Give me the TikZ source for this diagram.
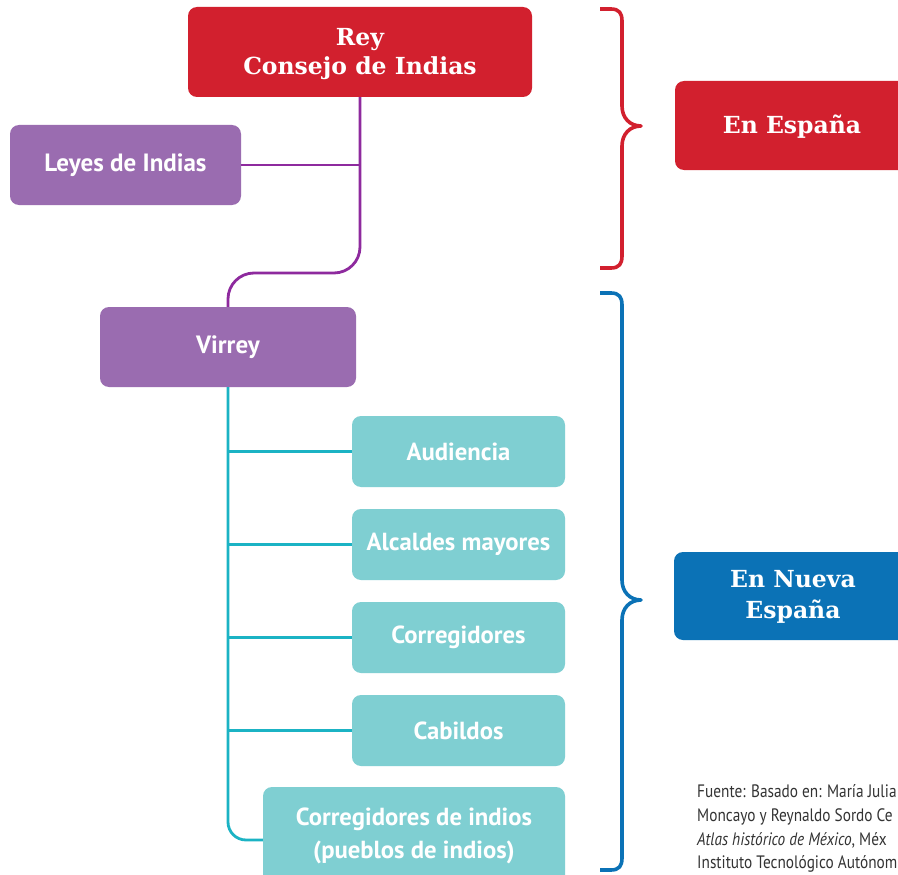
\documentclass[tikz,border=0pt]{standalone}
\usepackage{fontspec}
\setmainfont{PT Sans}
\newfontfamily\slab{DejaVu Serif}
\newfontfamily\fnfont[FakeStretch=0.85]{PT Sans}
\definecolor{rred}{HTML}{D2202E}
\definecolor{pbox}{HTML}{9A6CB0}
\definecolor{pline}{HTML}{8E2A9E}
\definecolor{tbox}{HTML}{7FCFD2}
\definecolor{tline}{HTML}{1BB3C4}
\definecolor{bblue}{HTML}{0B72B6}
\definecolor{fntext}{HTML}{333333}
\tikzset{
  boxbase/.style={rounded corners=9pt, inner sep=0pt, align=center, text=white},
  redbox/.style={boxbase, fill=rred, font=\slab\bfseries\fontsize{23.5}{29}\selectfont},
  bluebox/.style={boxbase, fill=bblue, font=\slab\bfseries\fontsize{23.5}{31}\selectfont},
  purplebox/.style={boxbase, fill=pbox, font=\bfseries\fontsize{25}{30}\selectfont},
  tealbox/.style={boxbase, fill=tbox, font=\bfseries\fontsize{24.7}{33}\selectfont},
  pconn/.style={draw=pline, line width=2.8pt},
  tconn/.style={draw=tline, line width=2.8pt},
  brace/.style={line width=3.6pt, line join=round},
  fnline/.style={anchor=base west, inner sep=0pt, text=fntext, font=\fnfont\fontsize{18}{24}\selectfont}
}
\begin{document}
\begin{tikzpicture}[x=1pt,y=-1pt]
\useasboundingbox (0,0) rectangle (898,875);
\clip (0,0) rectangle (898,875);
\fill[white] (0,0) rectangle (898,875);

% nodes
\node[redbox, minimum width=344pt, minimum height=90pt] (rey) at (360,52) {};
\node[redbox] (reytext) at (360,54) {Rey\\Consejo de Indias};
\node[purplebox, minimum width=231pt, minimum height=80pt] (leyes) at (125.5,165) {Leyes de Indias};
\node[purplebox, minimum width=256pt, minimum height=80pt] (virrey) at (228,347) {Virrey};
\node[tealbox, minimum width=213pt, minimum height=71pt] (aud) at (458.5,451.5) {Audiencia};
\node[tealbox, minimum width=213pt, minimum height=71pt] (alc) at (458.5,544.5) {Alcaldes mayores};
\node[tealbox, minimum width=213pt, minimum height=71pt] (corr) at (458.5,637.5) {Corregidores};
\node[tealbox, minimum width=213pt, minimum height=71pt] (cab) at (458.5,730.5) {Cabildos};
\node[tealbox, minimum width=302pt, minimum height=106pt] (cind) at (414,840) {};
\node[tealbox] (cindtext) at (414,836) {Corregidores de indios\\(pueblos de indios)};
\node[redbox, minimum width=240pt, minimum height=89pt] (esp) at (795,125.5) {};
\node[redbox] (esptext) at (792,127) {En España};
\node[bluebox, minimum width=241pt, minimum height=88pt] (nesp) at (794.5,596) {};
\node[bluebox] (nesptext) at (793,597) {En Nueva\\España};

% connectors
\draw[pconn, rounded corners=26pt] (rey.south) -- (rey.south |- 0,273) -- (virrey.north |- 0,273) -- (virrey.north);
\draw[pconn] (leyes.east) -- (leyes.east -| rey.south);
\draw[tconn, rounded corners=18pt] (virrey.south) -- (virrey.south |- cind.west) -- (cind.west);
\draw[tconn] (virrey.south |- aud.west) -- (aud.west);
\draw[tconn] (virrey.south |- alc.west) -- (alc.west);
\draw[tconn] (virrey.south |- corr.west) -- (corr.west);
\draw[tconn] (virrey.south |- cab.west) -- (cab.west);

% braces
\coordinate (rtip) at (641,126);
\draw[brace, draw=rred] (600,9) -- (611,9) .. controls (619,9) and (622,13) .. (622,21) -- (622,106)
  .. controls (622,118) and (630,126) .. (rtip)
  .. controls (630,126) and (622,134) .. (622,146) -- (622,256)
  .. controls (622,264) and (619,268) .. (611,268) -- (600,268);
\coordinate (btip) at (641,600);
\draw[brace, draw=bblue] (600,293) -- (611,293) .. controls (619,293) and (622,297) .. (622,305) -- (622,580)
  .. controls (622,592) and (630,600) .. (btip)
  .. controls (630,600) and (622,608) .. (622,620) -- (622,858)
  .. controls (622,866) and (619,870) .. (611,870) -- (600,870);

% source note
\node[fnline] (f1) at (697,797) {Fuente: Basado en: María Julia};
\node[fnline] (f2) at (697,821) {Moncayo y Reynaldo Sordo Ce};
\node[fnline] (f3) at (697,845) {\itshape Atlas histórico de México\upshape, Méx};
\node[fnline] (f4) at (697,868) {Instituto Tecnológico Autónom};
\end{tikzpicture}
\end{document}
